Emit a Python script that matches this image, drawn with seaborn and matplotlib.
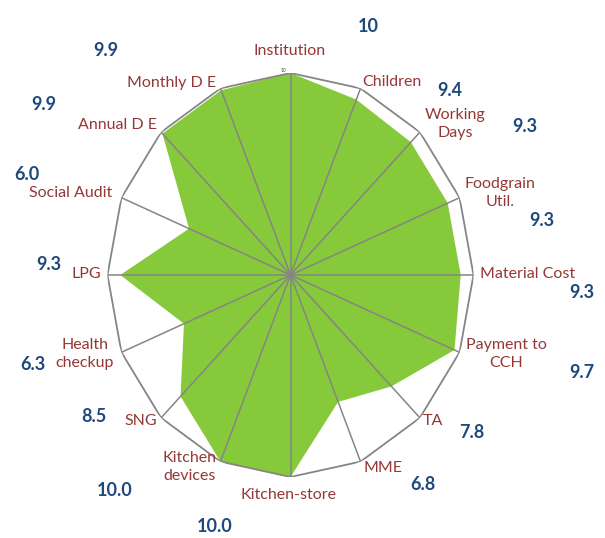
import numpy as np
import pandas as pd
import matplotlib
matplotlib.use("Agg")
import matplotlib.pyplot as plt
import seaborn as sns

# ---- data ----
categories = ["Institution", "Children", "Working\nDays", "Foodgrain\nUtil.", "Material Cost",
              "Payment to\nCCH", "TA", "MME", "Kitchen-store", "Kitchen\ndevices", "SNG",
              "Health\ncheckup", "LPG", "Social Audit", "Annual D E", "Monthly D E"]
values = [10, 9.4, 9.3, 9.3, 9.3, 9.7, 7.8, 6.8, 10.0, 10.0, 8.5, 6.3, 9.3, 6.0, 9.9, 9.9]
value_labels = ["10", "9.4", "9.3", "9.3", "9.3", "9.7", "7.8", "6.8", "10.0", "10.0", "8.5",
                "6.3", "9.3", "6.0", "9.9", "9.9"]
r_ticks = [0, 5, 10]
r_max = 10

# ---- style / layout (pixel positions of the text boxes) ----
W, H = 605, 538
cat_pos = [(290, 51), (392, 82), (455, 124), (500, 193), (528, 274), (506, 354), (433, 421),
           (383, 468), (289, 495), (190, 467), (141, 421), (85, 354), (86, 274), (71, 193),
           (117, 125), (172, 83)]
val_pos = [(368, 27), (450, 90), (525, 126), (542, 221), (582, 292), (582, 372), (472, 432),
           (423, 484), (215, 527), (115, 490), (94, 416), (33, 365), (49, 264), (27, 175),
           (44, 105), (106, 50)]
green = "#86C93A"
grid_col = "#858585"
cat_col = "#953735"
val_col = "#1F497D"

sns.set_style("white")
plt.rcParams["font.family"] = ["Lato", "DejaVu Sans"]

fig = plt.figure(figsize=(W / 100, H / 100), dpi=100)
cx, cy, rx, ry = 290.5, 275, 183, 202
ax = fig.add_axes([(cx - rx) / W, (H - (cy + ry)) / H, 2 * rx / W, 2 * ry / H], projection="polar")
ax.set_aspect("auto")
ax.set_theta_zero_location("N")
ax.set_theta_direction(-1)

n = len(categories)
theta = np.linspace(0, 2 * np.pi, n, endpoint=False)
df = pd.DataFrame({"theta": np.append(theta, theta[0]),
                   "value": values + [values[0]],
                   "frame": [r_max] * (n + 1)})

ax.fill(df["theta"], df["value"], color=green, lw=0, zorder=1)
for t in theta:
    ax.plot([t, t], [0, r_max], color=grid_col, lw=1.1, zorder=2)
sns.lineplot(data=df, x="theta", y="frame", sort=False, estimator=None,
             color=grid_col, lw=1.3, ax=ax, zorder=3)

ax.set_ylim(0, r_max)
ax.set_xticks([])
ax.set_yticks(r_ticks)
ax.set_yticklabels([str(v) for v in r_ticks], fontsize=3.5, color="#3A5A20")
ax.set_rlabel_position(-3)
ax.grid(False)
ax.spines["polar"].set_visible(False)
ax.set_xlabel("")
ax.set_ylabel("")
ax.patch.set_alpha(0)

for lab, (px, py) in zip(categories, cat_pos):
    fig.text(px / W, 1 - py / H, lab, ha="center", va="center", multialignment="center",
             color=cat_col, fontsize=11.5, linespacing=1.3)
for lab, (px, py) in zip(value_labels, val_pos):
    fig.text(px / W, 1 - py / H, lab, ha="center", va="center",
             color=val_col, fontsize=13, fontweight="bold")

fig.savefig("out.png", dpi=100)
